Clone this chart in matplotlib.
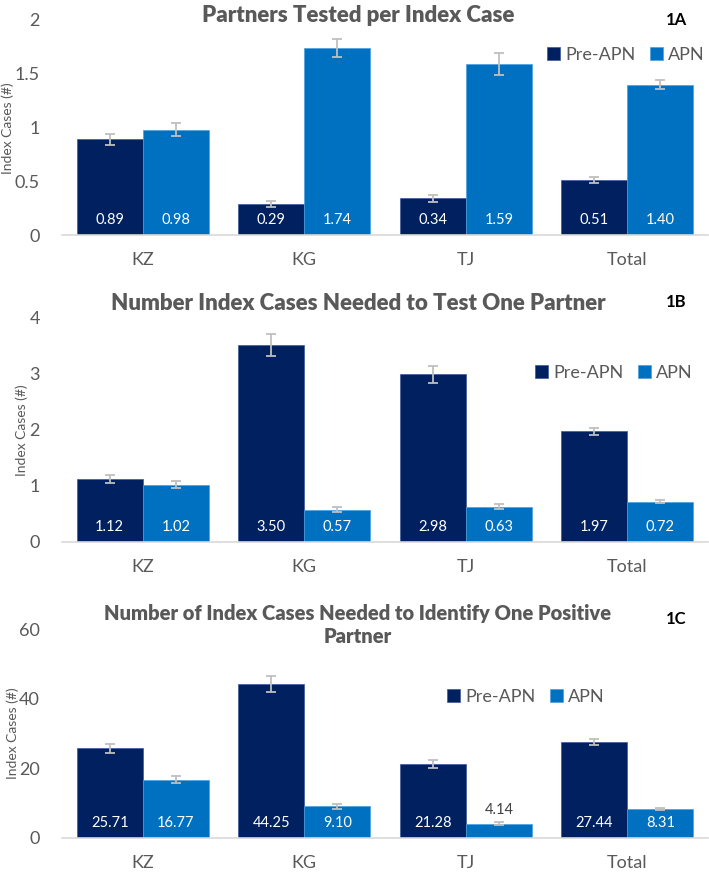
import numpy as np
import matplotlib.pyplot as plt

plt.rcParams['font.family'] = ['Lato', 'DejaVu Sans']

countries = ['KZ', 'KG', 'TJ', 'Total']
series_names = ['Pre-APN', 'APN']

# 1A partners tested per index case
pre_a = [0.89, 0.29, 0.34, 0.51]
apn_a = [0.98, 1.74, 1.59, 1.40]
pre_a_err = [0.053, 0.03, 0.03, 0.025]
apn_a_err = [0.062, 0.085, 0.10, 0.045]

# 1B index cases needed to test one partner
pre_b = [1.12, 3.50, 2.98, 1.97]
apn_b = [1.02, 0.57, 0.63, 0.72]
pre_b_err = [0.065, 0.19, 0.155, 0.065]
apn_b_err = [0.065, 0.045, 0.05, 0.035]

# 1C index cases needed to identify one positive partner
pre_c = [25.71, 44.25, 21.28, 27.44]
apn_c = [16.77, 9.10, 4.14, 8.31]
pre_c_err = [1.4, 2.4, 1.1, 0.85]
apn_c_err = [1.05, 0.65, 0.4, 0.4]

W, H = 709, 874
dark = '#002060'
light = '#0070C0'
grey = '#595959'

fig = plt.figure(figsize=(W / 100, H / 100), dpi=100)

def fx(px):
    return px / W

def fy(py):
    return 1 - py / H

panels = [
    dict(pre=pre_a, apn=apn_a, pe=pre_a_err, ae=apn_a_err, ymax=2, yticks=[0, 0.5, 1, 1.5, 2],
         ytl=['0', '0.5', '1', '1.5', '2'], top=20, base=235,
         title='Partners Tested per Index Case', ty=15, tsize=16, tag='1A', tagy=20,
         leg=(626, 55), ylab=(8, 128)),
    dict(pre=pre_b, apn=apn_b, pe=pre_b_err, ae=apn_b_err, ymax=4, yticks=[0, 1, 2, 3, 4],
         ytl=['0', '1', '2', '3', '4'], top=317, base=542,
         title='Number Index Cases Needed to Test One Partner', ty=303, tsize=16, tag='1B', tagy=302,
         leg=(614, 373), ylab=(22, 430)),
    dict(pre=pre_c, apn=apn_c, pe=pre_c_err, ae=apn_c_err, ymax=60, yticks=[0, 20, 40, 60],
         ytl=['0', '20', '40', '60'], top=629, base=838,
         title='Number of Index Cases Needed to Identify One Positive\nPartner', ty=625, tsize=14.5,
         tag='1C', tagy=619, leg=(526, 697), ylab=(13, 733)),
]

x = np.arange(len(countries))
bw = 0.41

for p in panels:
    ax = fig.add_axes([fx(62), fy(p['base']), fx(708) - fx(62), fy(p['top']) - fy(p['base'])])
    errkw = dict(ecolor='#BFBFBF', elinewidth=1.3, capsize=3.5, capthick=1.3)
    b1 = ax.bar(x - bw / 2, p['pre'], bw, color=dark, yerr=p['pe'], error_kw=errkw,
                label=series_names[0], edgecolor='#3a5a9a', linewidth=0.5)
    b2 = ax.bar(x + bw / 2, p['apn'], bw, color=light, yerr=p['ae'], error_kw=errkw,
                label=series_names[1], edgecolor='#4aa0e0', linewidth=0.5)
    ax.set_xlim(-0.5, 3.5)
    ax.set_ylim(0, p['ymax'])
    ax.set_yticks(p['yticks'])
    ax.set_yticklabels(p['ytl'])
    ax.set_xticks(x)
    ax.set_xticklabels(countries)
    ax.tick_params(axis='both', length=0, labelsize=13, colors=grey)
    ax.tick_params(axis='y', pad=16)
    ax.tick_params(axis='x', pad=12)
    for s in ['top', 'right', 'left']:
        ax.spines[s].set_visible(False)
    ax.spines['bottom'].set_color('#D9D9D9')
    ax.spines['bottom'].set_linewidth(1.2)

    px_per_unit = (p['base'] - p['top']) / p['ymax']
    for bars, vals in [(b1, p['pre']), (b2, p['apn'])]:
        for rect, v in zip(bars, vals):
            cx = rect.get_x() + rect.get_width() / 2
            if v * px_per_unit > 28:
                ax.annotate(f'{v:.2f}', (cx, 0), xytext=(0, 11), textcoords='offset points',
                            ha='center', va='center', color='white', fontsize=10.5)
            else:
                ax.annotate(f'{v:.2f}', (cx, v), xytext=(0, 9.5), textcoords='offset points',
                            ha='center', va='center', color='#404040', fontsize=10.5)

    fig.text(fx(358), fy(p['ty']), p['title'], ha='center', va='center', fontsize=p['tsize'],
             fontweight='heavy', color=grey, linespacing=1.3)
    fig.text(fx(676), fy(p['tagy']), p['tag'], ha='center', va='center', fontsize=12,
             fontweight='bold', color='black')
    fig.text(fx(p['ylab'][0]), fy(p['ylab'][1]), 'Index Cases (#)', rotation=90,
             ha='center', va='center', fontsize=10, color=grey)
    ax.legend(loc='center', bbox_to_anchor=(fx(p['leg'][0]), fy(p['leg'][1])),
              bbox_transform=fig.transFigure, ncol=2, frameon=False, fontsize=13,
              handlelength=0.7, handleheight=0.7, handletextpad=0.3, columnspacing=0.8,
              labelcolor=grey)

fig.savefig('out.png', dpi=100)
